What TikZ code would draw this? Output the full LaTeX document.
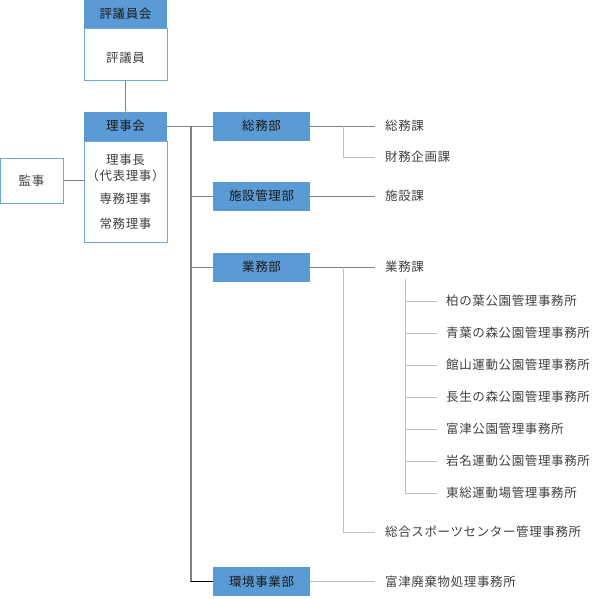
\documentclass[tikz,border=0pt]{standalone}
\usepackage{fontspec}
\setmainfont[LetterSpace=5]{Noto Sans CJK JP}
\definecolor{hdrblue}{HTML}{5B9BD5}
\definecolor{bordblue}{HTML}{6FA8DC}
\definecolor{txtgray}{HTML}{404040}
\definecolor{lnA}{HTML}{808080}
\definecolor{lnB}{HTML}{BFBFBF}
\begin{document}
\begin{tikzpicture}[x=1pt,y=-1pt,
  every node/.style={font=\fontsize{12.5}{14}\selectfont, inner sep=0pt},
  hdr/.style={fill=hdrblue, text=black!90, minimum width=83pt, minimum height=29pt},
  bodybox/.style={draw=bordblue, line width=1pt, minimum width=83pt},
  dept/.style={fill=hdrblue, text=black!90, minimum width=97pt, minimum height=29pt},
  lbl/.style={text=txtgray, anchor=west},
  trunk/.style={draw=lnA, line width=1.4pt},
  conn/.style={draw=lnA, line width=0.8pt},
  sub/.style={draw=lnB, line width=1pt}]
\useasboundingbox (0,0) rectangle (600,598);
% 評議員会
\node[bodybox, minimum height=52pt] (hyb) at (125.5,54.5) {};
\node[hdr, minimum height=28pt] (hyh) at (125.5,14) {評議員会};
\node[text=txtgray] (hyt) at (125.5,58) {評議員};
% 理事会
\node[bodybox, minimum height=101pt] (rjb) at (125.5,191.5) {};
\node[hdr] (rjh) at (125.5,126) {理事会};
\node[text=txtgray] (r1) at (125.5,160) {理事長};
\node[text=txtgray] (r2) at (125.5,176) {（代表理事）};
\node[text=txtgray] (r3) at (125.5,199) {専務理事};
\node[text=txtgray] (r4) at (125.5,224) {常務理事};
% 監事
\node[bodybox, minimum width=63pt, minimum height=45pt, text=txtgray] (kanji) at (31.5,180.5) {監事};
\draw[conn] (hyb.south) -- (rjh.north);
\draw[conn] (kanji.east) -- (kanji.east -| rjb.west);
% departments
\node[dept] (soumu) at (261.5,126) {総務部};
\node[dept] (shisetsu) at (261.5,196) {施設管理部};
\node[dept] (gyomu) at (261.5,267) {業務部};
\node[dept] (kankyo) at (261.5,581.5) {環境事業部};
\coordinate (ttop) at (191,126);
\coordinate (tbot) at (191,581.5);
\draw[conn] (rjh.east) -- (soumu.west);
\draw[trunk] (ttop) -- (tbot);
\draw[draw=black, line width=1.2pt] (tbot) -- (kankyo.west);
\draw[conn] (ttop |- shisetsu.west) -- (shisetsu.west);
\draw[conn] (ttop |- gyomu.west) -- (gyomu.west);
% sections
\node[lbl] (s1) at (385,126) {総務課};
\node[lbl] (s2) at (385,157) {財務企画課};
\node[lbl] (s3) at (385,196) {施設課};
\node[lbl] (s4) at (385,267) {業務課};
\node[lbl] (s5) at (385,532) {総合スポーツセンター管理事務所};
\node[lbl] (s6) at (385,581.5) {富津廃棄物処理事務所};
\coordinate (v1) at (343,126);
\draw[conn] (soumu.east) -- ([xshift=-10pt]s1.west);
\draw[sub] (v1) -- (v1 |- s2.west) -- ([xshift=-10pt]s2.west);
\draw[conn] (shisetsu.east) -- ([xshift=-10pt]s3.west);
\draw[conn] (gyomu.east) -- ([xshift=-10pt]s4.west);
\draw[sub] (v1 |- gyomu.east) -- (v1 |- s5.west) -- ([xshift=-10pt]s5.west);
\draw[sub] (kankyo.east) -- ([xshift=-10pt]s6.west);
% offices
\node[lbl] (o1) at (446,301) {柏の葉公園管理事務所};
\node[lbl] (o2) at (446,333) {青葉の森公園管理事務所};
\node[lbl] (o3) at (446,365) {館山運動公園管理事務所};
\node[lbl] (o4) at (446,397) {長生の森公園管理事務所};
\node[lbl] (o5) at (446,429) {富津公園管理事務所};
\node[lbl] (o6) at (446,461) {岩名運動公園管理事務所};
\node[lbl] (o7) at (446,493) {東総運動場管理事務所};
\coordinate (v2) at (405,279);
\draw[sub] (v2) -- (v2 |- o7.west) -- ([xshift=-9pt]o7.west);
\foreach \o in {o1,o2,o3,o4,o5,o6}
  \draw[sub] (v2 |- \o.west) -- ([xshift=-9pt]\o.west);
\end{tikzpicture}
\end{document}
